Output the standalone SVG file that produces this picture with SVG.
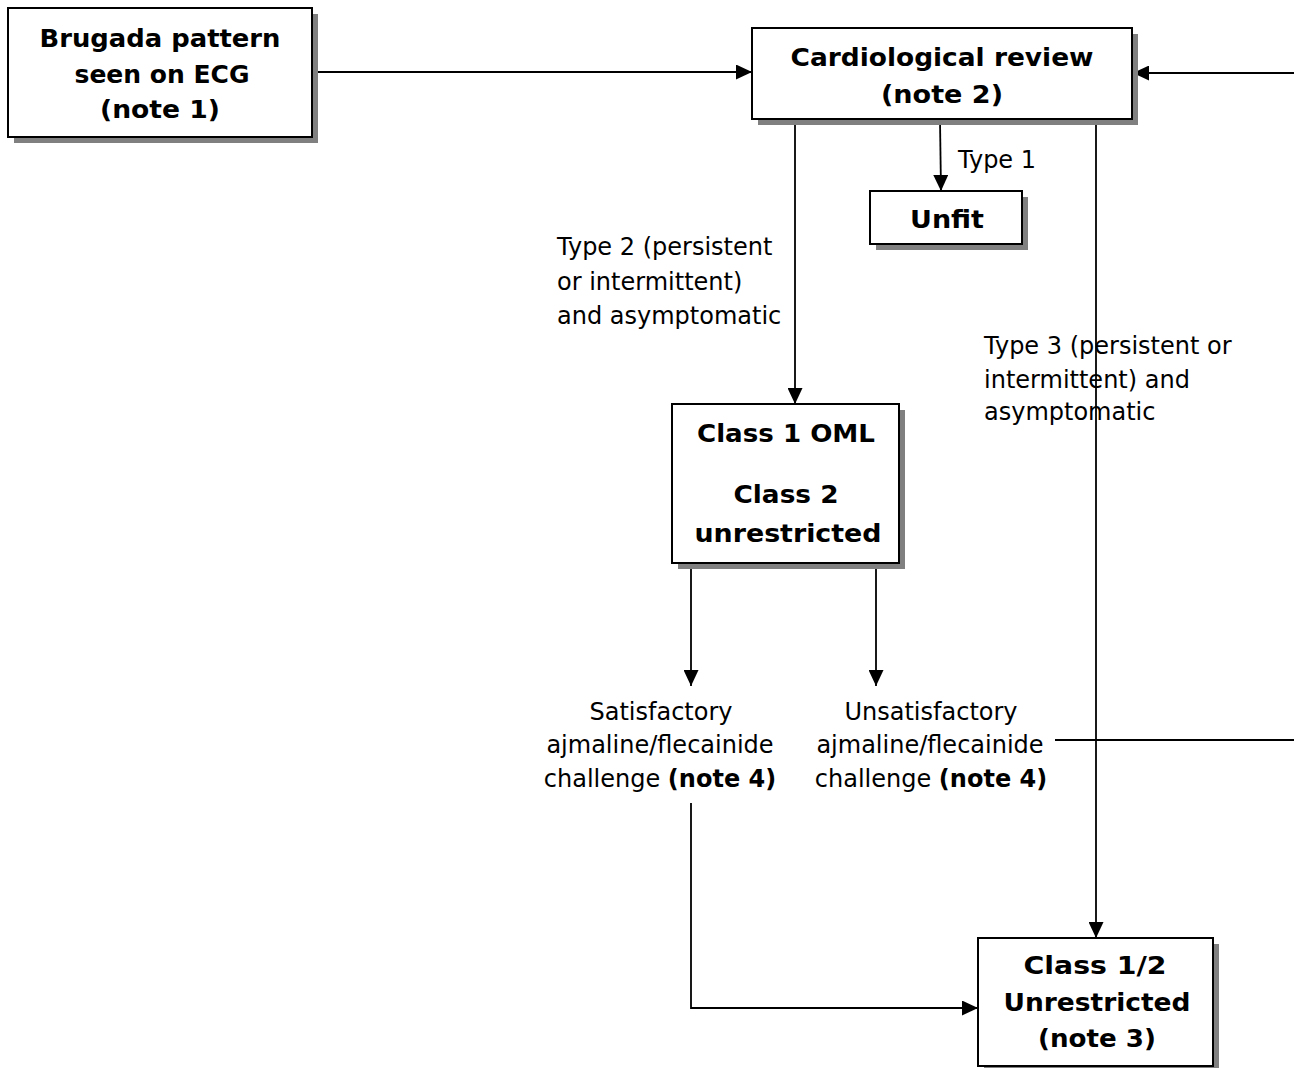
<svg xmlns="http://www.w3.org/2000/svg" width="1294" height="1068" viewBox="0 0 1294 1068">
<style>
.box{fill:#fff;stroke:#000;stroke-width:2}
.sh{fill:#808080}
.b{font-family:"DejaVu Sans",Verdana,sans-serif;font-weight:bold;font-size:24px;fill:#000;text-anchor:middle}
.r{font-family:"DejaVu Sans",Verdana,sans-serif;font-size:24px;fill:#000}
.c{text-anchor:middle}
.bt{font-weight:bold}
.ln{fill:none;stroke:#000;stroke-width:1.8}
</style>
<defs>
<marker id="ah" markerWidth="16" markerHeight="15" refX="16" refY="7.5" orient="auto" markerUnits="userSpaceOnUse">
<path d="M0,0 L16,7.5 L0,15 Z" fill="#000"/>
</marker>
</defs>
<rect width="1294" height="1068" fill="#fff"/>
<g id="connectors">
<line class="ln" x1="312" y1="72" x2="752" y2="72" marker-end="url(#ah)"/>
<line class="ln" x1="1294" y1="73" x2="1133" y2="73" marker-end="url(#ah)"/>
<line class="ln" x1="795" y1="120" x2="795" y2="404" marker-end="url(#ah)"/>
<line class="ln" x1="940" y1="120" x2="941" y2="191" marker-end="url(#ah)"/>
<line class="ln" x1="1096" y1="120" x2="1096" y2="938" marker-end="url(#ah)"/>
<line class="ln" x1="691" y1="568" x2="691" y2="686" marker-end="url(#ah)"/>
<line class="ln" x1="876" y1="568" x2="876" y2="686" marker-end="url(#ah)"/>
<line class="ln" x1="1055" y1="740" x2="1294" y2="740"/>
<polyline class="ln" points="691,803 691,1008 978,1008" marker-end="url(#ah)"/>
</g>
<g id="brugada">
<rect class="sh" x="14" y="14" width="304" height="129"/>
<rect class="box" x="8" y="8" width="304" height="129"/>
<text class="b" x="160" y="47" textLength="241" lengthAdjust="spacingAndGlyphs">Brugada pattern</text>
<text class="b" x="162" y="83" textLength="175" lengthAdjust="spacingAndGlyphs">seen on ECG</text>
<text class="b" x="160" y="118" textLength="120" lengthAdjust="spacingAndGlyphs">(note 1)</text>
</g>
<g id="cardio">
<rect class="sh" x="758" y="34" width="380" height="91"/>
<rect class="box" x="752" y="28" width="380" height="91"/>
<text class="b" x="942" y="66" textLength="303" lengthAdjust="spacingAndGlyphs">Cardiological review</text>
<text class="b" x="942" y="103" textLength="122" lengthAdjust="spacingAndGlyphs">(note 2)</text>
</g>
<g id="unfit">
<rect class="sh" x="876" y="197" width="152" height="53"/>
<rect class="box" x="870" y="191" width="152" height="53"/>
<text class="b" x="947" y="228" textLength="74" lengthAdjust="spacingAndGlyphs">Unfit</text>
</g>
<g id="class1oml">
<rect class="sh" x="678" y="410" width="227" height="159"/>
<rect class="box" x="672" y="404" width="227" height="159"/>
<text class="b" x="786" y="442" textLength="178" lengthAdjust="spacingAndGlyphs">Class 1 OML</text>
<text class="b" x="786" y="503" textLength="105" lengthAdjust="spacingAndGlyphs">Class 2</text>
<text class="b" x="788" y="542" textLength="187" lengthAdjust="spacingAndGlyphs">unrestricted</text>
</g>
<g id="class12">
<rect class="sh" x="984" y="944" width="235" height="128"/>
<rect class="box" x="978" y="938" width="235" height="128"/>
<text class="b" x="1095" y="974" textLength="143" lengthAdjust="spacingAndGlyphs">Class 1/2</text>
<text class="b" x="1097" y="1011" textLength="187" lengthAdjust="spacingAndGlyphs">Unrestricted</text>
<text class="b" x="1097" y="1047" textLength="118" lengthAdjust="spacingAndGlyphs">(note 3)</text>
</g>
<g id="labels">
<text class="r" x="958" y="168">Type 1</text>
<text class="r" x="557" y="255">Type 2 (persistent</text>
<text class="r" x="557" y="290">or intermittent)</text>
<text class="r" x="557" y="324">and asymptomatic</text>
<text class="r" x="984" y="354">Type 3 (persistent or</text>
<text class="r" x="984" y="388">intermittent) and</text>
<text class="r" x="984" y="420">asymptomatic</text>
</g>
<g id="satisfactory">
<text class="r c" x="661" y="720">Satisfactory</text>
<text class="r c" x="660" y="753">ajmaline/flecainide</text>
<text class="r c" x="660" y="787">challenge <tspan class="bt">(note 4)</tspan></text>
</g>
<g id="unsatisfactory">
<text class="r c" x="931" y="720">Unsatisfactory</text>
<text class="r c" x="930" y="753">ajmaline/flecainide</text>
<text class="r c" x="931" y="787">challenge <tspan class="bt">(note 4)</tspan></text>
</g>
</svg>
